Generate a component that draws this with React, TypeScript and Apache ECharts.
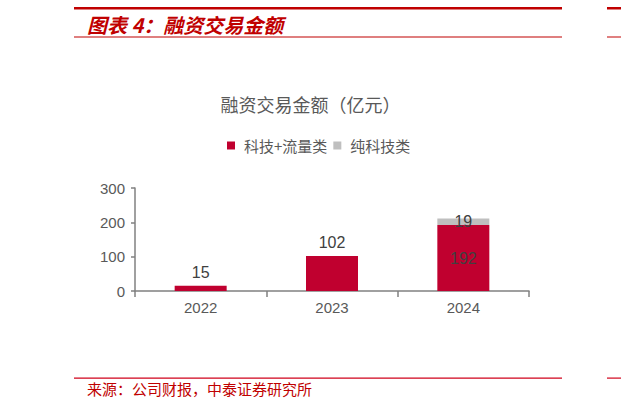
import { useEffect, useRef } from "react";
import * as echarts from "echarts";

type EChartsOption = echarts.EChartsOption;

// 数据
const years = ["2022", "2023", "2024"];
const techTraffic = [15, 102, 192]; // 科技+流量类
const pureTech = [null, null, 19]; // 纯科技类
const yTicks = [0, 100, 200, 300];

const RED = "#C0002F";
const GRAY = "#BFBFBF";
const HEAD_RED = "#C00000";
const TEXT = "#595959";

export default function App() {
  const chartRef = useRef<HTMLDivElement>(null);

  useEffect(() => {
    if (!chartRef.current) return;
    document.body.style.margin = "0";

    const chart = echarts.init(chartRef.current, undefined, { renderer: "svg" });

    const option: EChartsOption = {
      animation: false,
      backgroundColor: "#ffffff",
      title: {
        text: "融资交易金额（亿元）",
        left: "center",
        top: 90,
        textStyle: {
          fontFamily: "Noto Sans CJK SC",
          fontSize: 18,
          fontWeight: "normal",
          color: TEXT,
        },
      },
      legend: {
        left: 222,
        top: 133,
        itemWidth: 8,
        itemHeight: 8,
        itemGap: 6,
        icon: "rect",
        textStyle: {
          fontFamily: "Noto Sans CJK SC",
          fontSize: 15,
          color: TEXT,
          padding: [0, 0, 0, 4],
        },
        data: ["科技+流量类", "纯科技类"],
      },
      grid: {
        left: 135,
        right: 92,
        top: 188,
        bottom: 115,
        containLabel: false,
      },
      xAxis: {
        type: "category",
        data: years,
        axisLine: { lineStyle: { color: "#808080", width: 1.5 } },
        axisTick: { show: true, length: 6, lineStyle: { color: "#808080", width: 1.5 } },
        axisLabel: {
          margin: 9,
          fontFamily: "Liberation Sans",
          fontSize: 15,
          color: TEXT,
        },
      },
      yAxis: {
        type: "value",
        min: yTicks[0],
        max: yTicks[yTicks.length - 1],
        interval: 100,
        splitLine: { show: false },
        axisLine: { show: true, lineStyle: { color: "#808080", width: 1.5 } },
        axisTick: { show: true, length: 4, lineStyle: { color: "#808080", width: 1.5 } },
        axisLabel: {
          margin: 10,
          fontFamily: "Liberation Sans",
          fontSize: 15,
          color: TEXT,
        },
      },
      series: [
        {
          name: "科技+流量类",
          type: "bar",
          stack: "total",
          barWidth: 52,
          itemStyle: { color: RED },
          data: techTraffic.map((v, i) => ({
            value: v,
            label: {
              show: true,
              position: i === techTraffic.length - 1 ? "inside" : "top",
              distance: 5,
            },
          })),
          label: {
            fontFamily: "Liberation Sans",
            fontSize: 16,
            color: "#404040",
          },
        },
        {
          name: "纯科技类",
          type: "bar",
          stack: "total",
          barWidth: 52,
          itemStyle: { color: GRAY },
          data: pureTech,
          label: {
            show: true,
            position: "inside",
            fontFamily: "Liberation Sans",
            fontSize: 16,
            color: "#404040",
          },
        },
      ],
      graphic: [
        // 页眉
        { type: "rect", shape: { x: 74, y: 7, width: 488, height: 2.5 }, style: { fill: HEAD_RED } },
        { type: "rect", shape: { x: 607, y: 7, width: 14, height: 2.5 }, style: { fill: HEAD_RED } },
        { type: "rect", shape: { x: 74, y: 36.5, width: 488, height: 1 }, style: { fill: HEAD_RED } },
        { type: "rect", shape: { x: 607, y: 36.5, width: 14, height: 1 }, style: { fill: HEAD_RED } },
        {
          type: "text",
          x: 87,
          y: 24,
          style: {
            text: "图表 4：融资交易金额",
            fill: HEAD_RED,
            fontFamily: "Noto Sans CJK SC",
            fontSize: 20,
            fontWeight: "bold",
            fontStyle: "italic",
            verticalAlign: "middle",
          },
        },
        // 页脚
        { type: "rect", shape: { x: 74, y: 377.5, width: 488, height: 1.2 }, style: { fill: "#D0021B" } },
        { type: "rect", shape: { x: 607, y: 377.5, width: 14, height: 1.2 }, style: { fill: "#D0021B" } },
        {
          type: "text",
          x: 87,
          y: 388,
          style: {
            text: "来源：公司财报，中泰证券研究所",
            fill: HEAD_RED,
            fontFamily: "Noto Sans CJK SC",
            fontSize: 15,
            verticalAlign: "middle",
          },
        },
      ],
    };
    chart.setOption(option);

    return () => {
      chart.dispose();
    };
  }, []);

  return <div ref={chartRef} style={{ width: 621, height: 406 }} />;
}
